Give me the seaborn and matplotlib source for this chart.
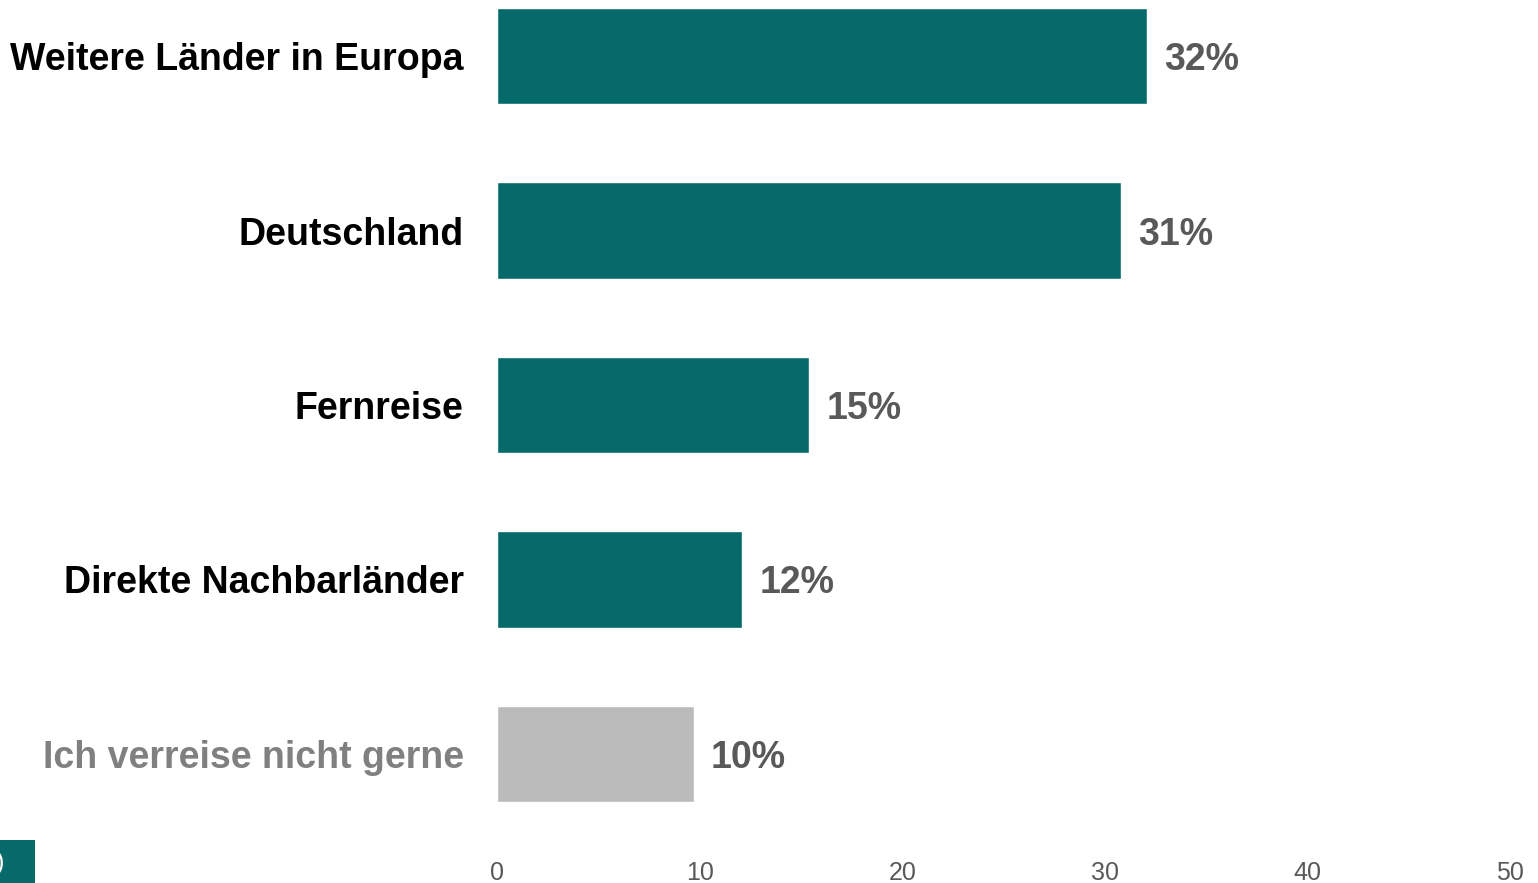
import matplotlib
matplotlib.use("Agg")
import matplotlib.pyplot as plt
import seaborn as sns
import pandas as pd
from matplotlib.patches import Rectangle

categories = ["Weitere Länder in Europa", "Deutschland", "Fernreise",
              "Direkte Nachbarländer", "Ich verreise nicht gerne"]
values = [32.1, 30.8, 15.4, 12.1, 9.7]
value_labels = ["32%", "31%", "15%", "12%", "10%"]
x_ticks = [0, 10, 20, 30, 40, 50]

teal = "#066a6a"
grey_bar = "#bbbbbb"
colors = [teal, teal, teal, teal, grey_bar]

sns.set_theme(style="white")
plt.rcParams['font.family'] = ['Liberation Sans', 'DejaVu Sans']

df = pd.DataFrame({"cat": categories, "val": values})

fig = plt.figure(figsize=(15.38, 8.83), dpi=100)
ax = fig.add_axes([497/1538, 43/883, (1510-497)/1538, 840/883])

sns.barplot(data=df, x="val", y="cat", hue="cat", palette=colors,
            legend=False, width=0.555, ax=ax, saturation=1)

ax.set_xlim(0, 50)
ax.set_ylim(4.493, -0.321)
ax.set_xticks(x_ticks)
ax.set_xticklabels([str(t) for t in x_ticks], fontsize=18, color="#595959")
ax.tick_params(axis="x", length=0, pad=15)
ax.tick_params(axis="y", length=0, pad=24)
ax.set_xlabel("")
ax.set_ylabel("")
for s in ax.spines.values():
    s.set_visible(False)

for lbl in ax.get_yticklabels():
    lbl.set_fontsize(27)
    lbl.set_fontweight("bold")
    lbl.set_color("black")
ax.get_yticklabels()[-1].set_color("#808080")

for i, (v, t) in enumerate(zip(values, value_labels)):
    ax.text(v + 0.85, i, t, va="center_baseline", ha="left", fontsize=27,
            fontweight="bold", color="#595959")

fig.patches.append(Rectangle((0, 0), 35/1538, 43/883, transform=fig.transFigure,
                             facecolor=teal, edgecolor="none"))
fig.text(-4/1538, 20/883, ")", color="white", fontsize=18, va="center", ha="left")

fig.savefig("out.png", dpi=100)
